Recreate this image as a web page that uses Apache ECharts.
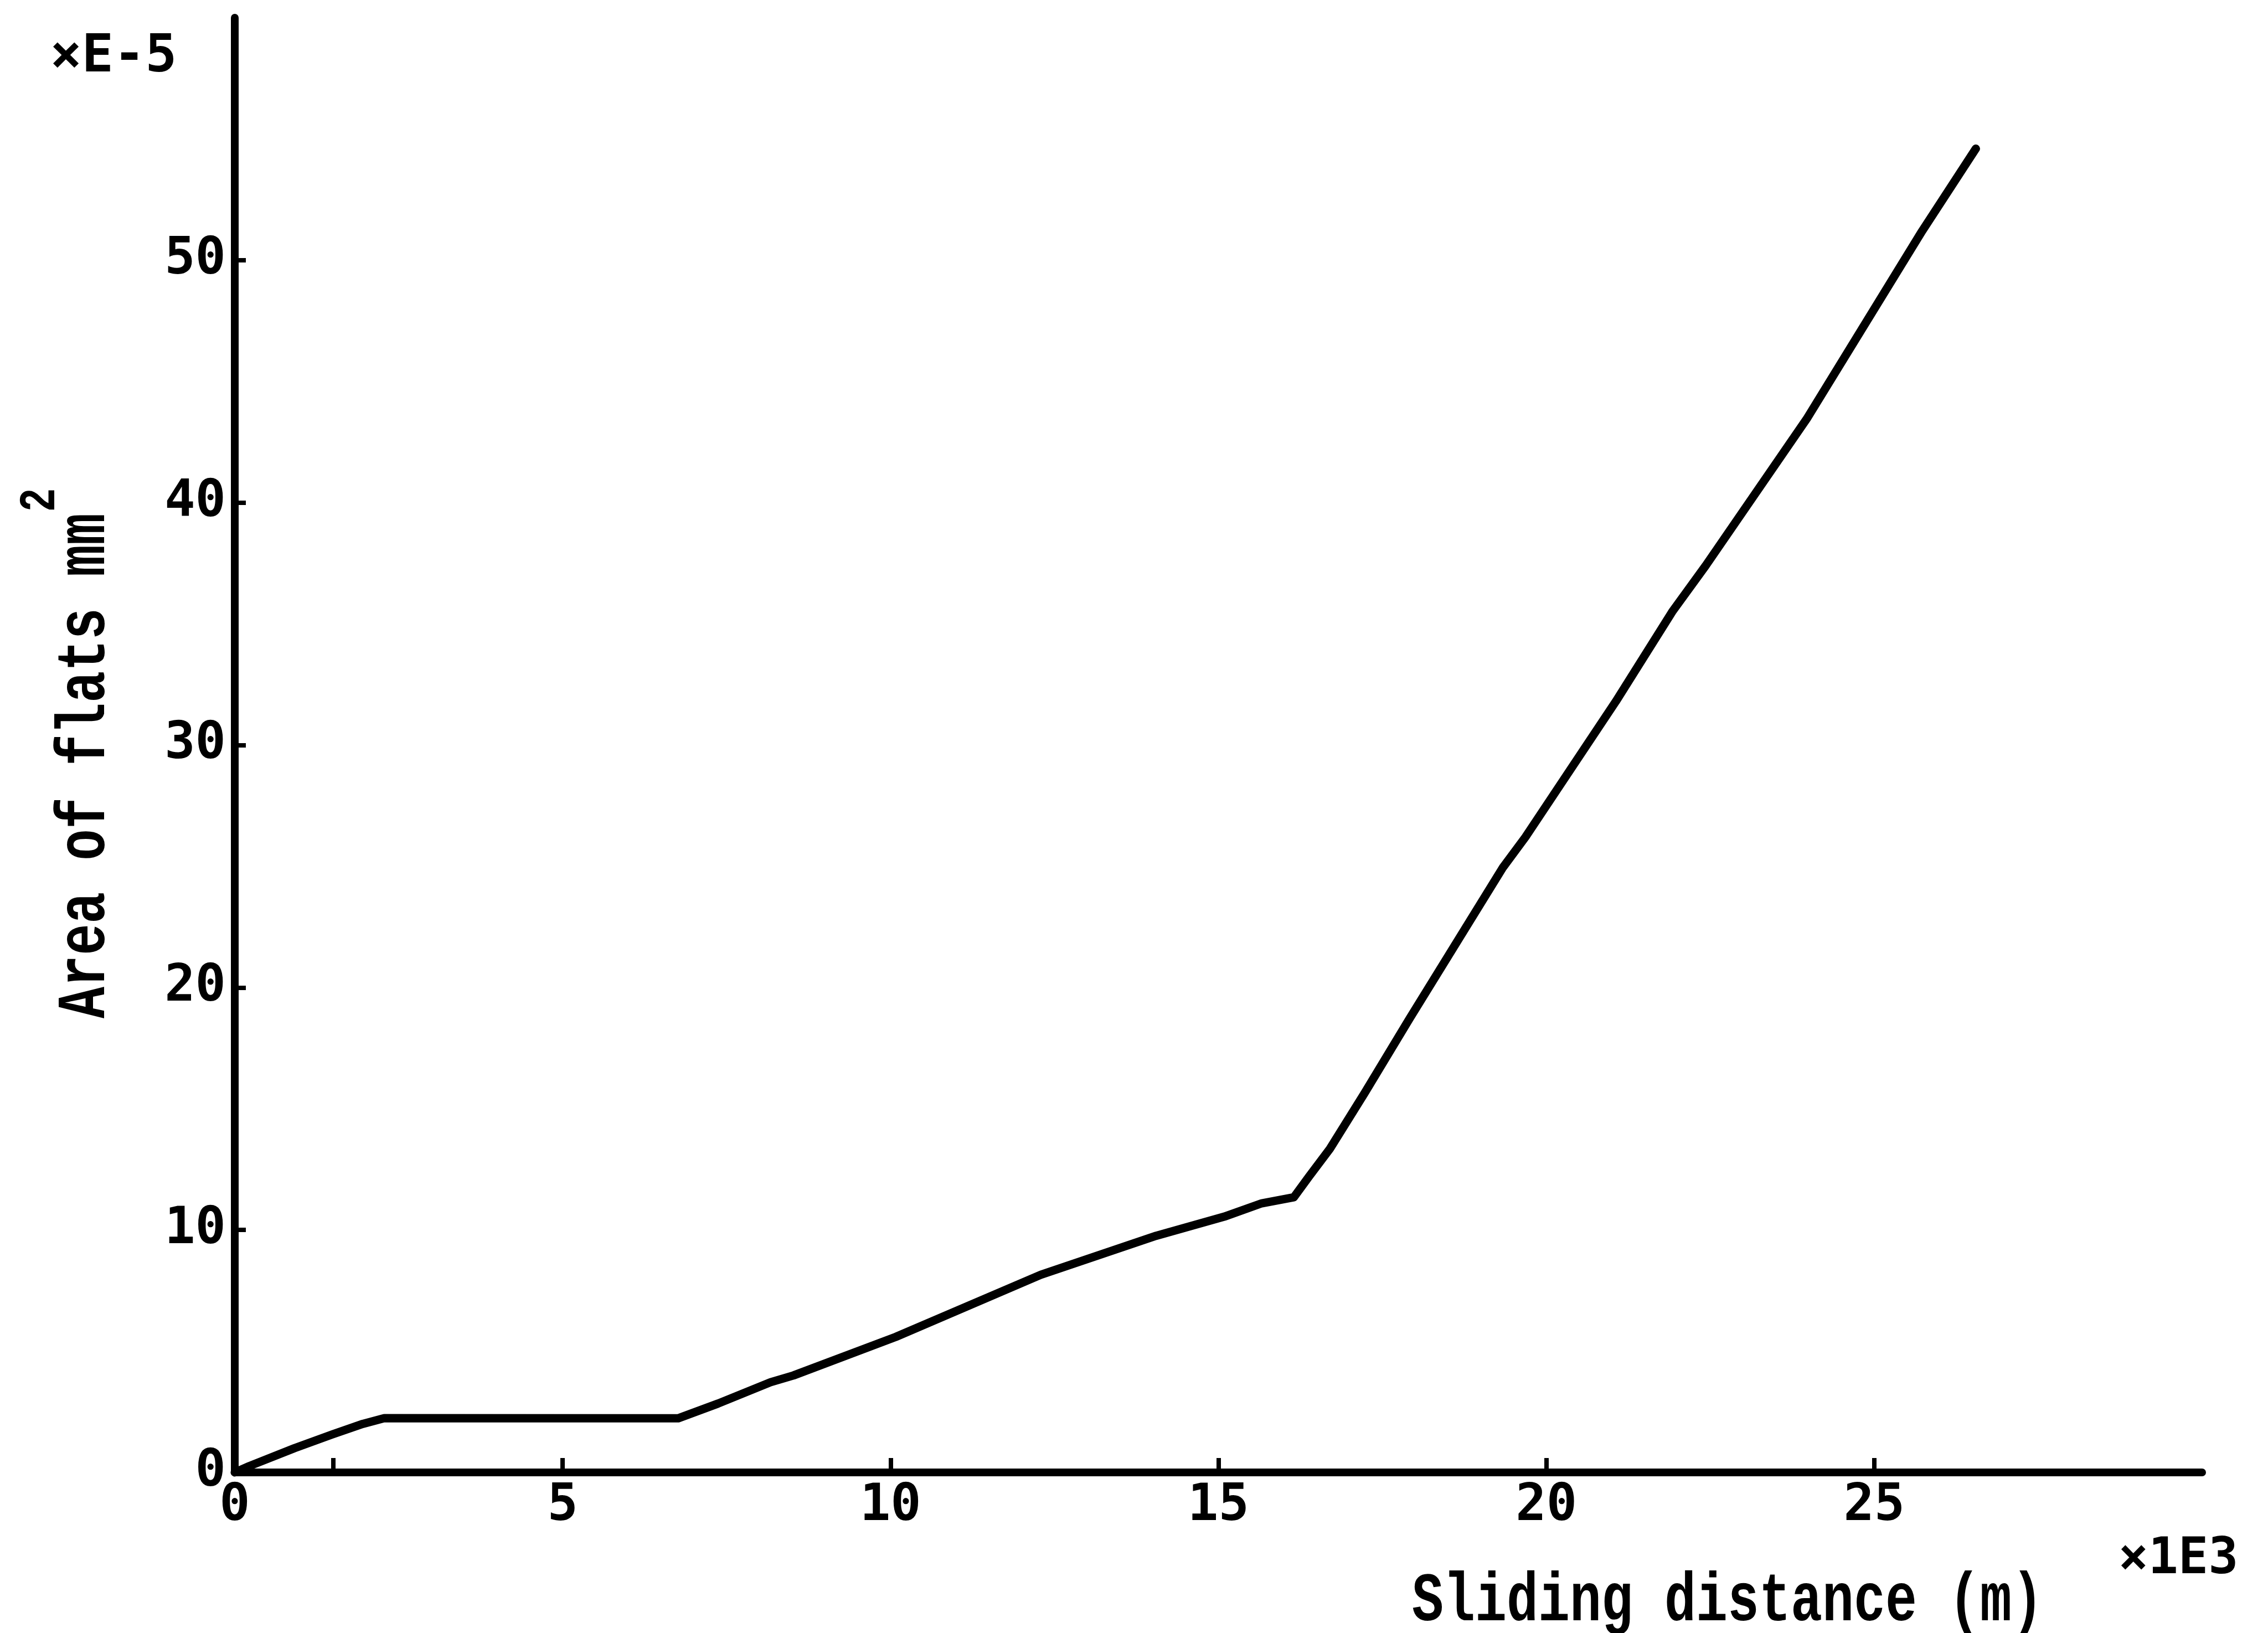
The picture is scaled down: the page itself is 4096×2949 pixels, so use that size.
<!DOCTYPE html>
<html>
<head>
<meta charset="utf-8">
<script src="https://cdn.jsdelivr.net/npm/echarts@6/dist/echarts.min.js"></script>
<style>
html,body{margin:0;padding:0;background:#fff;}
#chart{width:4096px;height:2949px;}
</style>
</head>
<body>
<div id="chart"></div>
<script>
// Sliding distance (x 1E3 m)
const xValues = [0, 0.22, 0.91, 1.49, 1.95, 2.28, 6.76, 7.37, 8.17, 8.52, 10.08, 12.29, 14.05, 15.09, 15.66, 16.15, 16.38, 16.7, 17.23, 17.91, 19.34, 19.68, 21.06, 21.92, 22.43, 23.97, 25.73, 26.55];
// Area of flats (x E-5 mm^2)
const yValues = [0, 0.26, 1.0, 1.57, 2.0, 2.24, 2.23, 2.84, 3.72, 4.0, 5.59, 8.15, 9.76, 10.55, 11.1, 11.35, 12.2, 13.35, 15.65, 18.7, 24.96, 26.2, 31.8, 35.5, 37.4, 43.45, 51.2, 54.6];

const xTickLabels = [0, 5, 10, 15, 20, 25];
const xTickMarks = [1.5, 5, 10, 15, 20, 25];
const yTickLabels = [0, 10, 20, 30, 40, 50];
const yTickMarks = [10, 20, 30, 40, 50];

const xTitle = 'Sliding distance (m)';
const yTitle = 'Area of flats mm';
const ySup = '2';
const xMult = '\u00d71E3';
const yMult = '\u00d7E-5';

const chart = echarts.init(document.getElementById('chart'), null, {renderer: 'canvas'});
const lblFont = 'DejaVu Sans Mono';
const titleFont = 'Liberation Mono';

const option = {
  animation: false,
  backgroundColor: '#fff',
  grid: {left: 424, right: 119, top: 32, bottom: 290, containLabel: false},
  xAxis: {
    type: 'value', min: 0, max: 30, interval: 5,
    axisLine: {show: true, lineStyle: {color: '#000', width: 14, cap: 'round'}},
    axisTick: {show: true, inside: true, length: 26, customValues: xTickMarks, lineStyle: {color: '#000', width: 8}},
    axisLabel: {show: true, customValues: xTickLabels, margin: 16, color: '#000', fontFamily: lblFont, fontWeight: 'bold', fontSize: 92},
    splitLine: {show: false}
  },
  yAxis: {
    type: 'value', min: 0, max: 60, interval: 10,
    axisLine: {show: true, lineStyle: {color: '#000', width: 14, cap: 'round'}},
    axisTick: {show: true, inside: true, length: 20, customValues: yTickMarks, lineStyle: {color: '#000', width: 8}},
    axisLabel: {show: true, customValues: yTickLabels, margin: 16, color: '#000', fontFamily: lblFont, fontWeight: 'bold', fontSize: 92},
    splitLine: {show: false}
  },
  series: [{
    type: 'line',
    data: xValues.map((x, i) => [x, yValues[i]]),
    showSymbol: false,
    symbol: 'none',
    lineStyle: {color: '#000', width: 15, cap: 'round', join: 'round'},
    clip: false
  }],
  graphic: [
    {type: 'text', x: 3120, y: 2895, scaleY: 1.3,
     style: {text: xTitle, fill: '#000', font: 'bold 95px "' + titleFont + '"', textAlign: 'center', textVerticalAlign: 'middle'}},
    {type: 'text', x: 157, y: 1383, rotation: Math.PI / 2, scaleY: 1.3,
     style: {text: yTitle, fill: '#000', font: 'bold 95px "' + titleFont + '"', textAlign: 'center', textVerticalAlign: 'middle'}},
    {type: 'text', x: 74, y: 903, rotation: Math.PI / 2, scaleY: 1.3,
     style: {text: ySup, fill: '#000', font: 'bold 72px "' + titleFont + '"', textAlign: 'center', textVerticalAlign: 'middle'}},
    {type: 'text', x: 3934, y: 2818,
     style: {text: xMult, fill: '#000', font: 'bold 90px "' + lblFont + '"', textAlign: 'center', textVerticalAlign: 'middle'}},
    {type: 'text', x: 205, y: 104,
     style: {text: yMult, fill: '#000', font: 'bold 95px "' + lblFont + '"', textAlign: 'center', textVerticalAlign: 'middle'}}
  ]
};
chart.setOption(option);
</script>
</body>
</html>
